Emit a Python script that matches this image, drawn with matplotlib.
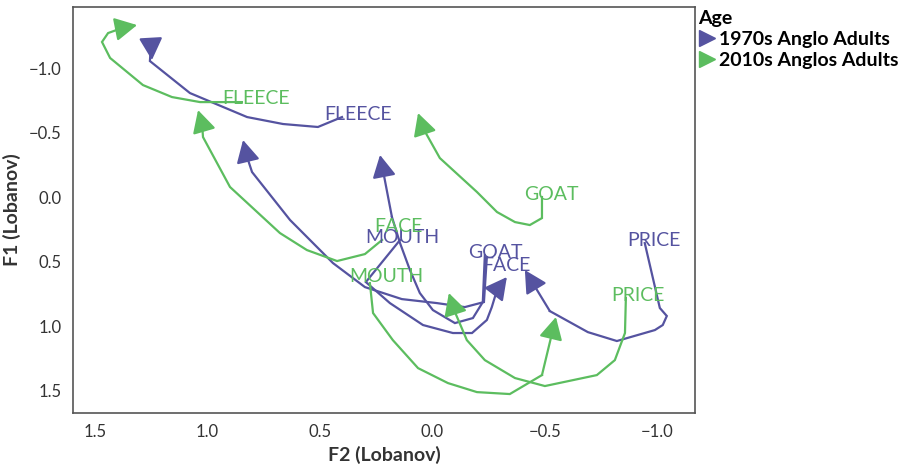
import matplotlib
matplotlib.use("Agg")
import matplotlib.pyplot as plt
from matplotlib.lines import Line2D

plt.rcParams['font.family'] = ['Lato', 'DejaVu Sans']

purple = "#5553a0"
green = "#5cbd5f"

# 1970s Anglo Adults trajectories (F2, F1), last point = arrow tip
f2_1970 = {
    "FLEECE": [0.402, 0.509, 0.664, 0.824, 1.078, 1.256, 1.251, 1.247],
    "PRICE": [-0.944, -1.011, -1.042, -1.024, -0.989, -0.82, -0.691, -0.522, -0.411],
    "GOAT": [-0.233, -0.224, -0.18, -0.1, -0.002, 0.056, 0.1, 0.144, 0.18, 0.233],
    "FACE": [-0.242, -0.229, -0.144, -0.02, 0.136, 0.3, 0.442, 0.633, 0.802, 0.824, 0.842],
    "MOUTH": [0.144, 0.296, 0.189, 0.042, -0.091, -0.176, -0.242, -0.264, -0.287, -0.331],
}
f1_1970 = {
    "FLEECE": [-0.62, -0.543, -0.566, -0.62, -0.806, -1.054, -1.186, -1.062],
    "PRICE": [0.357, 0.86, 0.922, 0.992, 1.031, 1.116, 1.047, 0.884, 0.566],
    "GOAT": [0.45, 0.814, 0.938, 0.977, 0.876, 0.744, 0.566, 0.357, 0.155, -0.326],
    "FACE": [0.465, 0.814, 0.853, 0.822, 0.791, 0.698, 0.512, 0.178, -0.194, -0.31, -0.442],
    "MOUTH": [0.333, 0.659, 0.822, 0.992, 1.054, 1.054, 0.953, 0.853, 0.721, 0.62],
}
lab_x_1970 = {"FLEECE": 0.331, "PRICE": -0.984, "GOAT": -0.282, "FACE": -0.331, "MOUTH": 0.136}
lab_y_1970 = {"FLEECE": -0.636, "PRICE": 0.333, "GOAT": 0.426, "FACE": 0.527, "MOUTH": 0.31}

# 2010s Anglos Adults
f2_2010 = {
    "FLEECE": [0.847, 1.033, 1.158, 1.287, 1.433, 1.469, 1.442, 1.38, 1.313],
    "FACE": [0.224, 0.3, 0.424, 0.558, 0.678, 0.9, 1.02, 1.024, 1.042],
    "GOAT": [-0.487, -0.487, -0.433, -0.367, -0.287, -0.198, -0.033, 0.042, 0.064],
    "MOUTH": [0.278, 0.264, 0.176, 0.064, -0.069, -0.198, -0.344, -0.487, -0.549],
    "PRICE": [-0.86, -0.856, -0.811, -0.731, -0.5, -0.367, -0.233, -0.153, -0.1, -0.073],
}
f1_2010 = {
    "FLEECE": [-0.736, -0.736, -0.775, -0.868, -1.078, -1.202, -1.271, -1.31, -1.333],
    "FACE": [0.333, 0.442, 0.496, 0.411, 0.279, -0.078, -0.465, -0.566, -0.674],
    "GOAT": [0.0, 0.163, 0.217, 0.194, 0.116, -0.039, -0.302, -0.535, -0.651],
    "MOUTH": [0.667, 0.899, 1.109, 1.326, 1.442, 1.512, 1.527, 1.38, 0.93],
    "PRICE": [0.783, 1.054, 1.264, 1.38, 1.465, 1.403, 1.264, 1.109, 0.891, 0.744],
}
lab_x_2010 = {"FLEECE": 0.784, "FACE": 0.153, "GOAT": -0.531, "MOUTH": 0.207, "PRICE": -0.913}
lab_y_2010 = {"FLEECE": -0.76, "FACE": 0.225, "GOAT": -0.016, "MOUTH": 0.612, "PRICE": 0.76}

groups = [
    ("1970s Anglo Adults", purple, f2_1970, f1_1970, lab_x_1970, lab_y_1970),
    ("2010s Anglos Adults", green, f2_2010, f1_2010, lab_x_2010, lab_y_2010),
]

fig = plt.figure(figsize=(9.18, 4.67), dpi=100)
ax = fig.add_axes([0.0795, 0.1156, 0.6775, 0.8694])

for name, col, xs, ys, lx, ly in groups:
    for vowel in xs:
        x = xs[vowel]
        y = ys[vowel]
        ax.plot(x[:-1], y[:-1], color=col, lw=1.6, solid_joinstyle='miter')
        ax.annotate("", xy=(x[-1], y[-1]), xytext=(x[-2], y[-2]),
                    arrowprops=dict(arrowstyle="-|>,head_length=0.85,head_width=0.45",
                                    mutation_scale=16, color=col, lw=1.6,
                                    shrinkA=0, shrinkB=0))
        ax.text(lx[vowel], ly[vowel], vowel, color=col, fontsize=14,
                ha='center', va='center')

ax.set_xlim(1.598, -1.167)
ax.set_ylim(1.674, -1.473)
ax.set_xticks([1.5, 1.0, 0.5, 0.0, -0.5, -1.0])
ax.set_yticks([-1.0, -0.5, 0.0, 0.5, 1.0, 1.5])
ax.tick_params(length=0, labelsize=12, labelcolor="#333333", pad=8)
for s in ax.spines.values():
    s.set_color("#555555")
    s.set_linewidth(1.2)
ax.set_xlabel("F2 (Lobanov)", fontsize=14, fontweight='bold', color="#333333", labelpad=4)
ax.set_ylabel("F1 (Lobanov)", fontsize=14, fontweight='bold', color="#333333", labelpad=6)

handles = [Line2D([], [], color=g[1], marker='>', ls='none', markersize=12) for g in groups]
leg = fig.legend(handles, [g[0] for g in groups], title="Age", loc='upper left',
                 bbox_to_anchor=(0.752, 0.995), frameon=False, handletextpad=0.15,
                 borderaxespad=0, labelspacing=0.2, handlelength=0.9,
                 prop={'weight': 'bold', 'size': 14},
                 title_fontproperties={'weight': 'bold', 'size': 14})
leg._legend_box.align = "left"

fig.savefig("out.png", dpi=100)
